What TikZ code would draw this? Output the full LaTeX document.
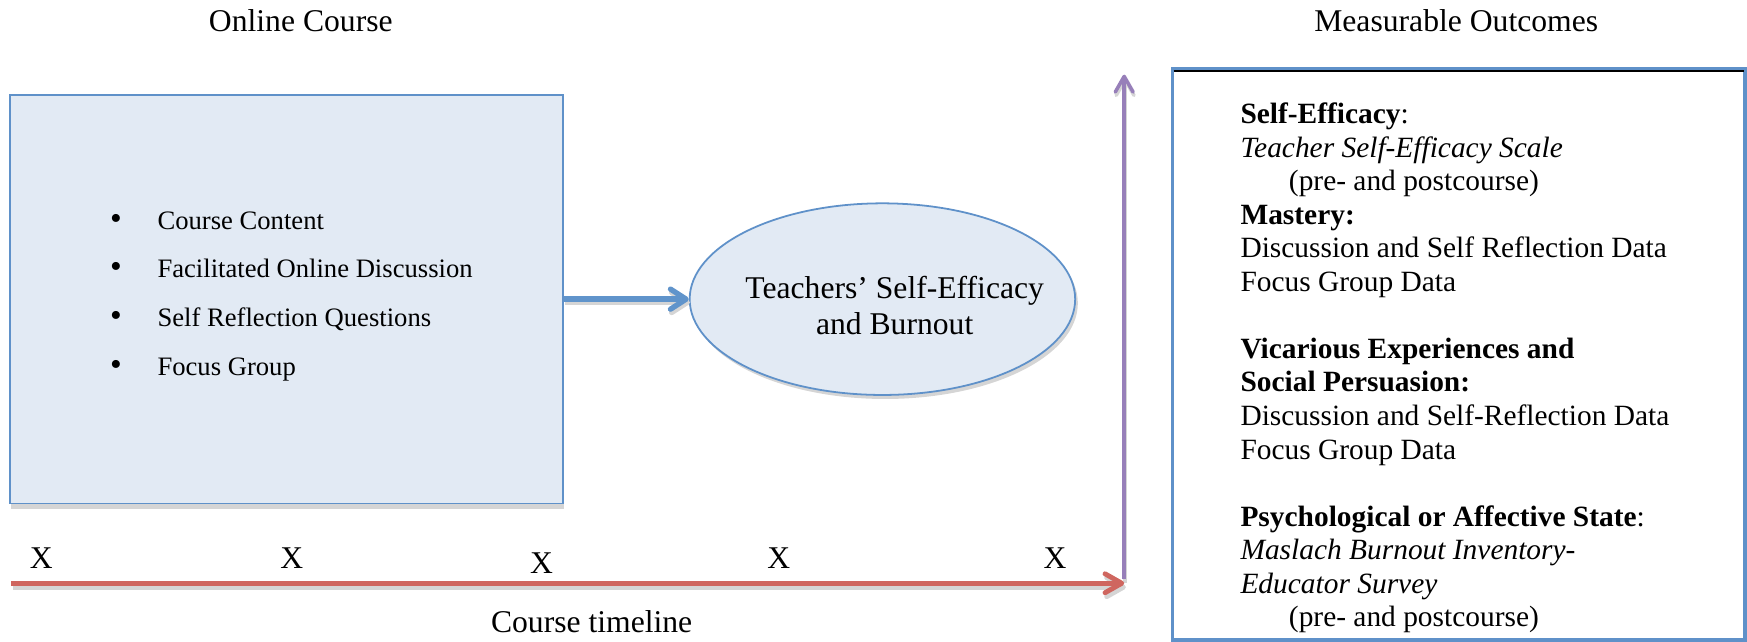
\documentclass[tikz,border=0pt]{standalone}
\usepackage{fontspec}
\setmainfont{Liberation Serif}
\usetikzlibrary{arrows.meta,shapes.geometric,shadows}

\definecolor{boxfill}{HTML}{E2EAF4}
\definecolor{boxline}{HTML}{5F91C9}
\definecolor{arrblue}{HTML}{6094CB}
\definecolor{arrred}{HTML}{CF665F}
\definecolor{arrpurple}{HTML}{977FB9}
\definecolor{shade}{HTML}{D5D5D5}

\newcommand\fbig{\fontsize{14.2}{16}\selectfont}
\newcommand\fmid{\fontsize{13.2}{15.05}\selectfont}
\newcommand\fsmall{\fontsize{11.95}{14}\selectfont}

\begin{document}
\begin{tikzpicture}[x=0.5pt,y=-0.5pt,
  title/.style={font=\fbig, inner sep=0pt, anchor=base},
  listitem/.style={font=\fsmall, inner sep=0pt, anchor=base west},
  bulletmark/.style={font=\fontsize{15}{16}\selectfont, inner sep=0pt, anchor=base},
  xmark/.style={font=\fbig, inner sep=0pt, anchor=base},
  coursebox/.style={draw=boxline, line width=0.8pt, fill=boxfill, rectangle,
    minimum width=248pt, minimum height=183.5pt, inner sep=0pt,
    drop shadow={shadow xshift=0.4pt, shadow yshift=-2.2pt, fill=shade, opacity=1}},
  effell/.style={draw=boxline, line width=0.8pt, fill=boxfill, ellipse,
    minimum width=173pt, minimum height=86pt, inner sep=0pt,
    drop shadow={shadow xshift=1.2pt, shadow yshift=-1.8pt, fill=shade, opacity=1}},
  efftext/.style={font=\fbig, align=center, inner sep=0pt},
  outbox/.style={draw=boxline, line width=1.6pt, rectangle,
    minimum width=256.75pt, minimum height=256.25pt, inner sep=0pt},
  outtext/.style={font=\fmid, align=left, inner sep=0pt, anchor=north west},
  bluearr/.style={draw=arrblue, line width=2.4pt, -{Straight Barb[length=7pt,width=9pt,round]}},
  redarr/.style={draw=arrred, line width=2.2pt, -{Straight Barb[length=7.5pt,width=8.5pt,round]}},
  purplearr/.style={draw=arrpurple, line width=1.6pt, -{Straight Barb[length=7pt,width=8pt,round]}},
  shadowline/.style={draw=shade}
]
\useasboundingbox (0,0) rectangle (1568,576);

% titles
\node[title] (t1) at (270,28.4) {Online Course};
\node[title] (t2) at (1307,28.4) {Measurable Outcomes};

% left course box
\node[coursebox] (course) at (257,268.5) {};
\node[bulletmark] (d1) at (104,206) {•};
\node[bulletmark] (d2) at (104,249) {•};
\node[bulletmark] (d3) at (104,293) {•};
\node[bulletmark] (d4) at (104,337) {•};
\node[listitem] (b1) at (141,206) {Course Content};
\node[listitem] (b2) at (141,249) {Facilitated Online Discussion};
\node[listitem] (b3) at (141,293) {Self Reflection Questions};
\node[listitem] (b4) at (141,337) {Focus Group};

% ellipse
\node[effell] (eff) at (792,268.5) {};
\node[efftext] (efft) at (803,274) {Teachers’ Self-Efficacy\\and Burnout};

% blue arrow
\draw[bluearr, shadowline, transform canvas={shift={(1,3)}}] (course.east |- eff.west) -- (eff.west);
\draw[bluearr] (course.east |- eff.west) -- (eff.west);

% outcomes box
\node[outbox] (out) at (1309.25,318.25) {};
\draw[shade, line width=1pt] ([shift={(2.5,3)}]out.north west) -- ([shift={(-2,3)}]out.north east);
\node[outtext] (outtxt) at (1113,92) {\textbf{Self-Efficacy}:\\
\textit{Teacher Self-Efficacy Scale}\\
\hspace*{21.75pt}(pre- and postcourse)\\
\textbf{Mastery:}\\
Discussion and Self Reflection Data\\
Focus Group Data\\[15.05pt]
\textbf{Vicarious Experiences and}\\
\textbf{Social Persuasion:}\\
Discussion and Self-Reflection Data\\
Focus Group Data\\[15.05pt]
\textbf{Psychological or Affective State}:\\
\textit{Maslach Burnout Inventory-}\\
\textit{Educator Survey}\\
\hspace*{21.75pt}(pre- and postcourse)};

% timeline
\coordinate (tl0) at (10,523.5);
\coordinate (tl1) at (1009,523.5);
\coordinate (v0) at (1009,520);
\coordinate (v1) at (1009,67);
\draw[purplearr, shadowline, transform canvas={shift={(0.8,3)}}] (v0) -- (v1);
\draw[purplearr] (v0) -- (v1);
\draw[redarr, shadowline, transform canvas={shift={(1.5,3.5)}}] (tl0) -- (tl1);
\draw[redarr] (tl0) -- (tl1);

\node[xmark] (x1) at (37,510.4) {X};
\node[xmark] (x2) at (262,510.4) {X};
\node[xmark] (x3) at (486,514.4) {X};
\node[xmark] (x4) at (699,510.4) {X};
\node[xmark] (x5) at (947,510.4) {X};

\node[title] (tl) at (531,567.4) {Course timeline};
\end{tikzpicture}
\end{document}
